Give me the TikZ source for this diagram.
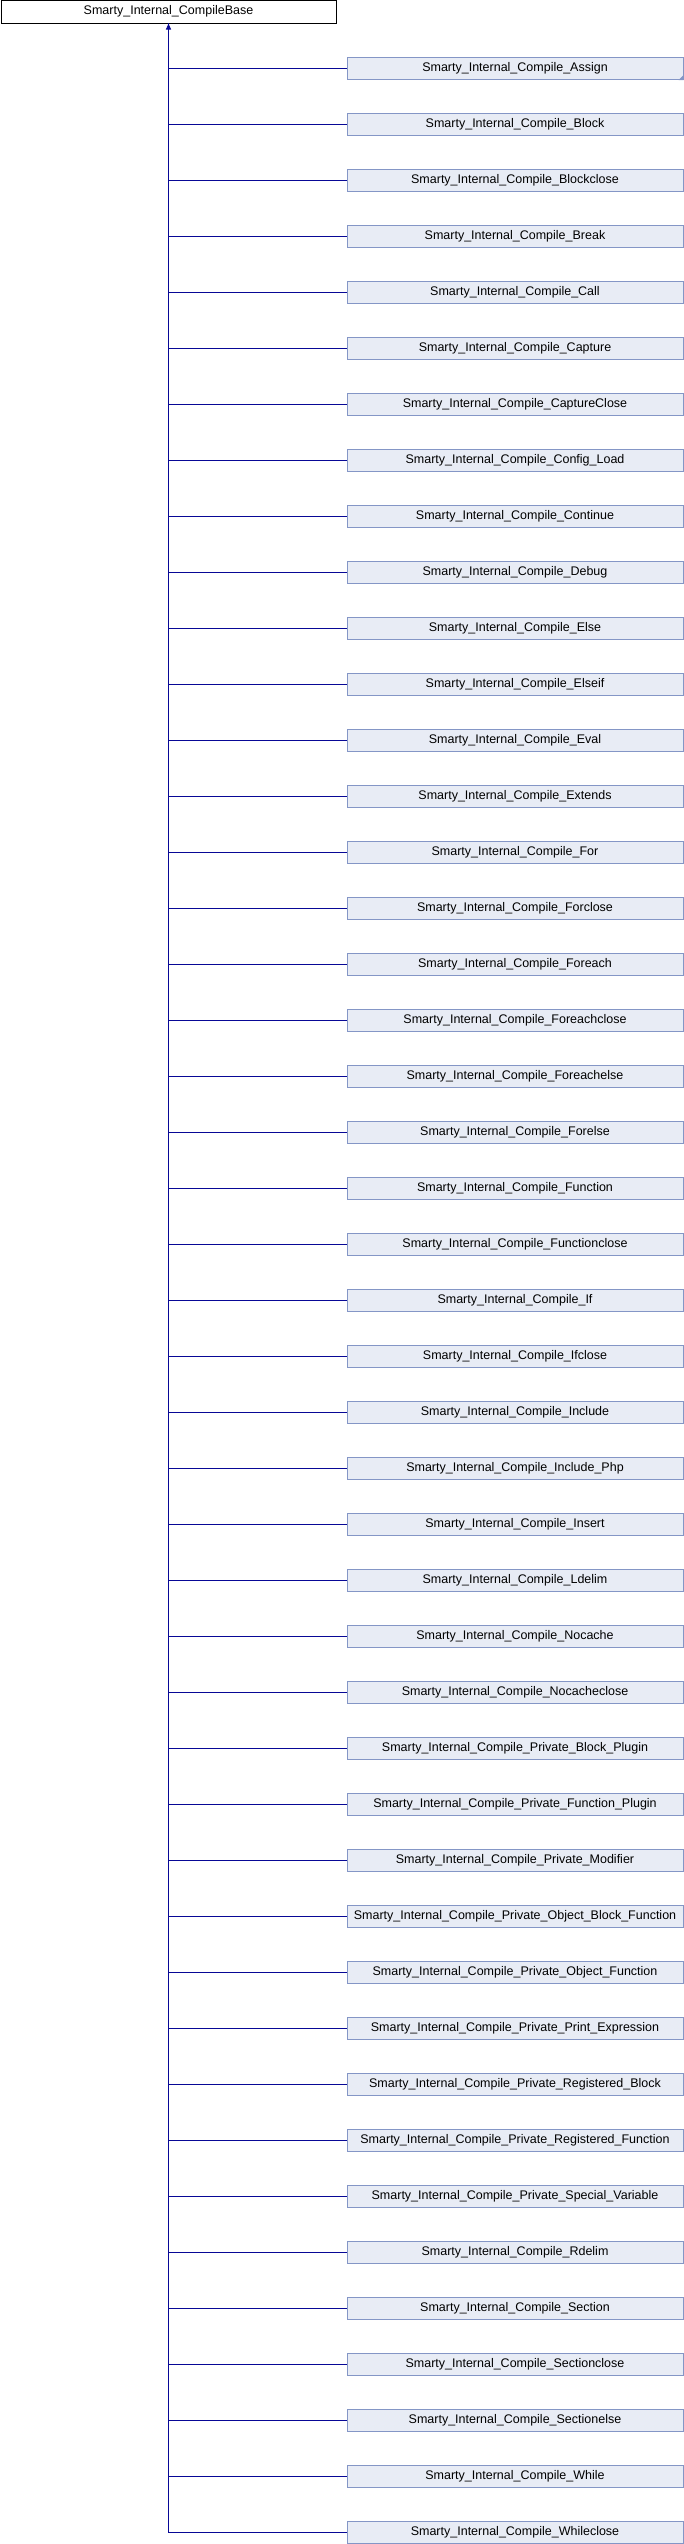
\documentclass[tikz,border=0pt]{standalone}
\usepackage{fontspec}
\setmainfont{Liberation Sans}
\usepackage{xcolor}
\usetikzlibrary{positioning,arrows.meta,shapes}
\definecolor{boxfill}{RGB}{232,236,245}
\definecolor{boxborder}{RGB}{132,150,198}
\definecolor{edgeblue}{RGB}{8,8,150}
\tikzset{
  baseclass/.style={
    rectangle,
    draw=black, line width=1pt,
    fill=white,
    minimum width=335pt,
    minimum height=22.5pt,
    inner sep=0pt,
    font=\fontsize{12.5}{14}\selectfont,
    text centered},
  derived/.style={
    rectangle,
    draw=boxborder, line width=1pt,
    fill=boxfill,
    minimum width=336pt,
    minimum height=22.5pt,
    inner sep=0pt,
    font=\fontsize{12.5}{14}\selectfont,
    text centered},
  inherit/.style={draw=edgeblue, line width=1pt},
  tip/.style={{Triangle[length=6pt,width=5pt]}-},
}
\begin{document}
\begin{tikzpicture}[x=1pt,y=1pt,node distance=32.5pt]
  \useasboundingbox (0,0) rectangle (684,-2544);
  \node[baseclass] (base) at (168.5,-11.75) {Smarty\_Internal\_CompileBase};

  \node[derived] (child1) at (515,-68.25) {Smarty\_Internal\_Compile\_Assign};
  \node[derived, below=of child1] (child2) {Smarty\_Internal\_Compile\_Block};
  \node[derived, below=of child2] (child3) {Smarty\_Internal\_Compile\_Blockclose};
  \node[derived, below=of child3] (child4) {Smarty\_Internal\_Compile\_Break};
  \node[derived, below=of child4] (child5) {Smarty\_Internal\_Compile\_Call};
  \node[derived, below=of child5] (child6) {Smarty\_Internal\_Compile\_Capture};
  \node[derived, below=of child6] (child7) {Smarty\_Internal\_Compile\_CaptureClose};
  \node[derived, below=of child7] (child8) {Smarty\_Internal\_Compile\_Config\_Load};
  \node[derived, below=of child8] (child9) {Smarty\_Internal\_Compile\_Continue};
  \node[derived, below=of child9] (child10) {Smarty\_Internal\_Compile\_Debug};
  \node[derived, below=of child10] (child11) {Smarty\_Internal\_Compile\_Else};
  \node[derived, below=of child11] (child12) {Smarty\_Internal\_Compile\_Elseif};
  \node[derived, below=of child12] (child13) {Smarty\_Internal\_Compile\_Eval};
  \node[derived, below=of child13] (child14) {Smarty\_Internal\_Compile\_Extends};
  \node[derived, below=of child14] (child15) {Smarty\_Internal\_Compile\_For};
  \node[derived, below=of child15] (child16) {Smarty\_Internal\_Compile\_Forclose};
  \node[derived, below=of child16] (child17) {Smarty\_Internal\_Compile\_Foreach};
  \node[derived, below=of child17] (child18) {Smarty\_Internal\_Compile\_Foreachclose};
  \node[derived, below=of child18] (child19) {Smarty\_Internal\_Compile\_Foreachelse};
  \node[derived, below=of child19] (child20) {Smarty\_Internal\_Compile\_Forelse};
  \node[derived, below=of child20] (child21) {Smarty\_Internal\_Compile\_Function};
  \node[derived, below=of child21] (child22) {Smarty\_Internal\_Compile\_Functionclose};
  \node[derived, below=of child22] (child23) {Smarty\_Internal\_Compile\_If};
  \node[derived, below=of child23] (child24) {Smarty\_Internal\_Compile\_Ifclose};
  \node[derived, below=of child24] (child25) {Smarty\_Internal\_Compile\_Include};
  \node[derived, below=of child25] (child26) {Smarty\_Internal\_Compile\_Include\_Php};
  \node[derived, below=of child26] (child27) {Smarty\_Internal\_Compile\_Insert};
  \node[derived, below=of child27] (child28) {Smarty\_Internal\_Compile\_Ldelim};
  \node[derived, below=of child28] (child29) {Smarty\_Internal\_Compile\_Nocache};
  \node[derived, below=of child29] (child30) {Smarty\_Internal\_Compile\_Nocacheclose};
  \node[derived, below=of child30] (child31) {Smarty\_Internal\_Compile\_Private\_Block\_Plugin};
  \node[derived, below=of child31] (child32) {Smarty\_Internal\_Compile\_Private\_Function\_Plugin};
  \node[derived, below=of child32] (child33) {Smarty\_Internal\_Compile\_Private\_Modifier};
  \node[derived, below=of child33] (child34) {Smarty\_Internal\_Compile\_Private\_Object\_Block\_Function};
  \node[derived, below=of child34] (child35) {Smarty\_Internal\_Compile\_Private\_Object\_Function};
  \node[derived, below=of child35] (child36) {Smarty\_Internal\_Compile\_Private\_Print\_Expression};
  \node[derived, below=of child36] (child37) {Smarty\_Internal\_Compile\_Private\_Registered\_Block};
  \node[derived, below=of child37] (child38) {Smarty\_Internal\_Compile\_Private\_Registered\_Function};
  \node[derived, below=of child38] (child39) {Smarty\_Internal\_Compile\_Private\_Special\_Variable};
  \node[derived, below=of child39] (child40) {Smarty\_Internal\_Compile\_Rdelim};
  \node[derived, below=of child40] (child41) {Smarty\_Internal\_Compile\_Section};
  \node[derived, below=of child41] (child42) {Smarty\_Internal\_Compile\_Sectionclose};
  \node[derived, below=of child42] (child43) {Smarty\_Internal\_Compile\_Sectionelse};
  \node[derived, below=of child43] (child44) {Smarty\_Internal\_Compile\_While};
  \node[derived, below=of child44] (child45) {Smarty\_Internal\_Compile\_Whileclose};

  % marker: Assign has further subclasses
  \fill[boxborder] (child1.south east) -- ++(0,5) -- ++(-5,-5) -- cycle;

  \path[inherit] (base.south) |- (child1.west);
  \path[inherit] (base.south) |- (child2.west);
  \path[inherit] (base.south) |- (child3.west);
  \path[inherit] (base.south) |- (child4.west);
  \path[inherit] (base.south) |- (child5.west);
  \path[inherit] (base.south) |- (child6.west);
  \path[inherit] (base.south) |- (child7.west);
  \path[inherit] (base.south) |- (child8.west);
  \path[inherit] (base.south) |- (child9.west);
  \path[inherit] (base.south) |- (child10.west);
  \path[inherit] (base.south) |- (child11.west);
  \path[inherit] (base.south) |- (child12.west);
  \path[inherit] (base.south) |- (child13.west);
  \path[inherit] (base.south) |- (child14.west);
  \path[inherit] (base.south) |- (child15.west);
  \path[inherit] (base.south) |- (child16.west);
  \path[inherit] (base.south) |- (child17.west);
  \path[inherit] (base.south) |- (child18.west);
  \path[inherit] (base.south) |- (child19.west);
  \path[inherit] (base.south) |- (child20.west);
  \path[inherit] (base.south) |- (child21.west);
  \path[inherit] (base.south) |- (child22.west);
  \path[inherit] (base.south) |- (child23.west);
  \path[inherit] (base.south) |- (child24.west);
  \path[inherit] (base.south) |- (child25.west);
  \path[inherit] (base.south) |- (child26.west);
  \path[inherit] (base.south) |- (child27.west);
  \path[inherit] (base.south) |- (child28.west);
  \path[inherit] (base.south) |- (child29.west);
  \path[inherit] (base.south) |- (child30.west);
  \path[inherit] (base.south) |- (child31.west);
  \path[inherit] (base.south) |- (child32.west);
  \path[inherit] (base.south) |- (child33.west);
  \path[inherit] (base.south) |- (child34.west);
  \path[inherit] (base.south) |- (child35.west);
  \path[inherit] (base.south) |- (child36.west);
  \path[inherit] (base.south) |- (child37.west);
  \path[inherit] (base.south) |- (child38.west);
  \path[inherit] (base.south) |- (child39.west);
  \path[inherit] (base.south) |- (child40.west);
  \path[inherit] (base.south) |- (child41.west);
  \path[inherit] (base.south) |- (child42.west);
  \path[inherit] (base.south) |- (child43.west);
  \path[inherit] (base.south) |- (child44.west);
  \path[inherit, tip] (base.south) |- (child45.west);
\end{tikzpicture}
\end{document}
